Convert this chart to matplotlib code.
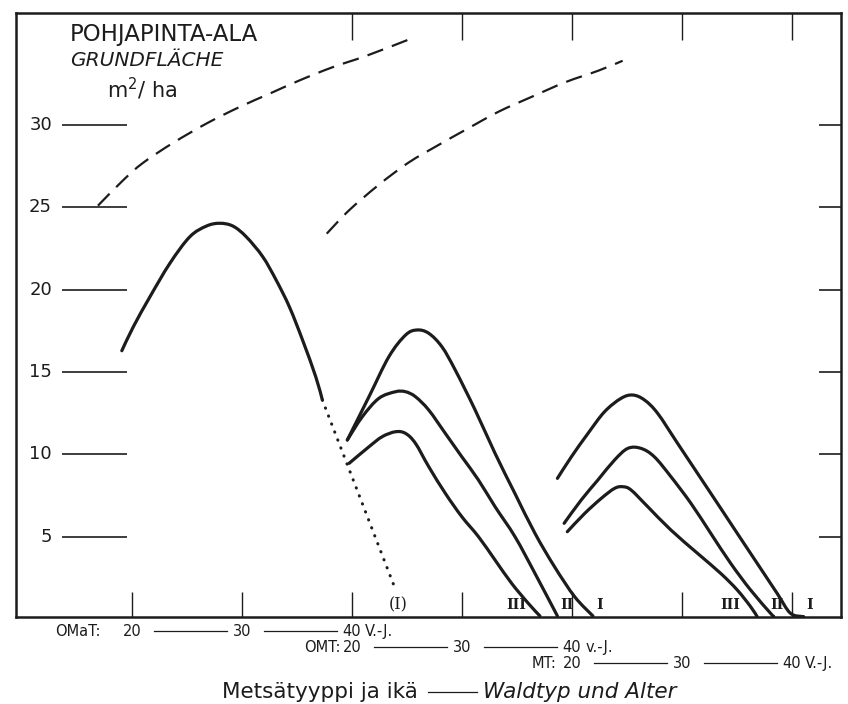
import numpy as np
import matplotlib
matplotlib.use("Agg")
import matplotlib.pyplot as plt
from matplotlib.path import Path
from matplotlib.patches import PathPatch

# x axis is in "OMaT age" units; OMT ages are shifted by 20 yrs, MT ages by 40 yrs
OMT_SHIFT = 20
MT_SHIFT = 40

# --- OMaT (basal area m2/ha by age) ---
omat_age = [19.07, 20.12, 21.63, 23.44, 25.25, 26.76, 27.96, 29.17, 30.38, 31.88, 33.1, 34.3, 35.5, 36.7, 37.3]
omat_ba = [16.29, 17.75, 19.57, 21.6, 23.21, 23.86, 24.03, 23.86, 23.21, 22.0, 20.58, 18.96, 16.94, 14.71, 13.3]
omat_extra_age = [37.3, 44.0]
omat_extra_ba = [13.3, 1.7]
omat_ref_age = [16.9, 19.2, 21.0, 23.7, 26.8, 29.8, 32.5, 35.2, 38.2, 41.3, 45.2]
omat_ref_ba = [25.1, 26.65, 27.7, 28.9, 30.1, 31.1, 31.9, 32.7, 33.5, 34.2, 35.2]

# --- OMT ---
omt_ref_age = [17.7, 19.7, 22.4, 25.1, 27.9, 30.3, 33.3, 36.3, 39.4, 42.4, 44.6]
omt_ref_ba = [23.4, 24.8, 26.35, 27.7, 28.8, 29.7, 30.8, 31.7, 32.6, 33.3, 33.9]
omt_I_age = [19.57, 21.54, 23.35, 24.86, 25.9, 26.97, 28.17, 29.38, 31.19, 33.0, 34.8, 36.63, 38.4, 40.24, 41.9]
omt_I_ba = [10.87, 13.5, 15.93, 17.24, 17.55, 17.35, 16.53, 15.12, 12.69, 10.06, 7.63, 5.2, 3.18, 1.35, 0.18]
omt_II_age = [19.57, 20.93, 22.44, 23.95, 24.86, 25.76, 26.97, 28.48, 29.98, 31.49, 33.0, 34.81, 36.62, 38.67]
omt_II_ba = [10.87, 12.28, 13.4, 13.8, 13.8, 13.5, 12.69, 11.27, 9.85, 8.44, 6.82, 5.0, 2.78, 0.18]
omt_III_age = [19.73, 21.54, 22.74, 23.95, 24.86, 25.76, 26.97, 28.48, 29.98, 31.49, 33.0, 34.5, 36.02, 37.08]
omt_III_ba = [9.45, 10.46, 11.07, 11.37, 11.27, 10.67, 9.25, 7.63, 6.21, 5.0, 3.58, 2.17, 0.95, 0.18]

# --- MT ---
mt_I_age = [18.67, 19.94, 21.45, 22.96, 24.46, 25.52, 26.58, 27.78, 29.59, 31.4, 33.21, 35.02, 36.83, 38.64, 39.85, 41.06]
mt_I_ba = [8.54, 9.85, 11.27, 12.59, 13.4, 13.6, 13.3, 12.49, 10.67, 8.85, 7.03, 5.2, 3.38, 1.56, 0.35, 0.14]
mt_II_age = [19.28, 20.84, 22.35, 23.86, 25.07, 26.27, 27.48, 28.99, 30.8, 32.61, 34.42, 36.23, 38.04, 38.34]
mt_II_ba = [5.81, 7.23, 8.44, 9.65, 10.36, 10.36, 9.85, 8.64, 7.03, 5.2, 3.38, 1.76, 0.35, 0.14]
mt_III_age = [19.57, 21.15, 22.65, 23.86, 24.62, 25.37, 26.88, 28.99, 31.4, 33.51, 35.02, 36.23, 36.83]
mt_III_ba = [5.3, 6.41, 7.32, 7.93, 8.03, 7.83, 6.82, 5.4, 3.99, 2.77, 1.76, 0.75, 0.14]

# class labels along the base line (position in OMaT-age units)
class_labels = ["(I)", "III", "II", "I", "III", "II", "I"]
class_label_pos = [44.2, 54.9, 59.5, 62.5, 74.4, 78.6, 81.6]

yticks = [5, 10, 15, 20, 25, 30]
age_labels = [20, 30, 40]

ink = "#1c1c1c"
plt.rcParams["font.family"] = "DejaVu Sans"

fig = plt.figure(figsize=(8.48, 7.04), dpi=100)
ax = fig.add_axes([16 / 848, 1 - 617 / 704, 825 / 848, 604 / 704])
ax.set_xlim(9.45, 84.45)
ax.set_ylim(0.12, 36.8)

for s in ax.spines.values():
    s.set_linewidth(1.8)
    s.set_color(ink)


def smooth_curve(xs, ys, **kw):
    # draw a smooth curve through the read points (Catmull-Rom as bezier path)
    p = np.column_stack([xs, ys]).astype(float)
    verts = [p[0]]
    codes = [Path.MOVETO]
    n = len(p)
    for i in range(n - 1):
        p0 = p[i - 1] if i > 0 else p[i]
        p3 = p[i + 2] if i + 2 < n else p[i + 1]
        c1 = p[i] + (p[i + 1] - p0) / 6
        c2 = p[i + 1] - (p3 - p[i]) / 6
        verts += [c1, c2, p[i + 1]]
        codes += [Path.CURVE4] * 3
    patch = PathPatch(Path(verts, codes), fill=False, **kw)
    ax.add_patch(patch)


lw = 2.3
smooth_curve(omat_age, omat_ba, edgecolor=ink, lw=lw, capstyle="round")
ax.plot(omat_extra_age, omat_extra_ba, color=ink, lw=2.2, linestyle=(0, (0.1, 2.7)),
        dash_capstyle="round")
smooth_curve(omat_ref_age, omat_ref_ba, edgecolor=ink, lw=1.6, linestyle=(0, (7.5, 4.2)))
smooth_curve(np.array(omt_ref_age) + OMT_SHIFT, omt_ref_ba, edgecolor=ink, lw=1.6,
             linestyle=(0, (7.5, 4.2)))

for a, b in [(omt_I_age, omt_I_ba), (omt_II_age, omt_II_ba), (omt_III_age, omt_III_ba)]:
    smooth_curve(np.array(a) + OMT_SHIFT, b, edgecolor=ink, lw=lw, capstyle="round",
                 joinstyle="round")
for a, b in [(mt_I_age, mt_I_ba), (mt_II_age, mt_II_ba), (mt_III_age, mt_III_ba)]:
    smooth_curve(np.array(a) + MT_SHIFT, b, edgecolor=ink, lw=lw, capstyle="round",
                 joinstyle="round")

# ticks: bottom inward, right inward, left detached hand-drawn style
ax.set_xticks([20, 30, 40, 50, 60, 70, 80])
ax.set_yticks(yticks)
ax.tick_params(axis="x", direction="in", length=18, width=1.0, color=ink,
               labelbottom=False, top=False)
ax.tick_params(axis="y", direction="in", length=16, width=1.2, color=ink,
               left=False, right=True, labelleft=False)
ytrans = ax.get_yaxis_transform()
xtrans = ax.get_xaxis_transform()
ax.hlines(yticks, 0.056, 0.135, transform=ytrans, color=ink, lw=1.2)
for v in yticks:
    ax.text(0.0436, v, str(v), transform=ytrans, ha="right", va="center",
            fontsize=13, color=ink)
# top ticks
ax.vlines([40, 50, 60, 70, 80], 0.956, 1.0, transform=xtrans, color=ink, lw=1.0)

# axis title text
ax.text(0.0655, 0.9636, "POHJAPINTA-ALA", transform=ax.transAxes, fontsize=16.5,
        color=ink, va="center", ha="left")
ax.text(0.0655, 0.921, "GRUNDFLÄCHE", transform=ax.transAxes, fontsize=14.5,
        style="italic", color=ink, va="center", ha="left")
ax.text(0.11, 0.874, "m$^2$/ ha", transform=ax.transAxes, fontsize=15,
        color=ink, va="center", ha="left")

# class labels
for lab, pos in zip(class_labels, class_label_pos):
    paren = lab.startswith("(")
    ax.text(pos, 0.02, lab, transform=xtrans, ha="center", va="center",
            fontsize=11.5 if paren else 10, family="DejaVu Serif",
            fontweight="normal" if paren else "bold", color=ink)


# age rows below axis
def age_row(prefix, shift, y, suffix, gap):
    fs = 10.5
    pos = [a + shift for a in age_labels]
    for a, p in zip(age_labels, pos):
        ax.text(p, y, str(a), transform=xtrans, ha="center", va="center",
                fontsize=fs, color=ink)
    ax.text(pos[0] - gap, y, prefix, transform=xtrans, ha="right", va="center",
            fontsize=fs, color=ink)
    for p0, p1 in zip(pos[:-1], pos[1:]):
        ax.plot([p0 + 2.0, p1 - 1.4], [y, y], transform=xtrans, color=ink,
                lw=0.9, clip_on=False)
    ax.text(pos[-1] + 1.2, y, suffix, transform=xtrans, ha="left", va="center",
            fontsize=fs, color=ink)


age_row("OMaT:", 0, -0.0232, "V.-J.", 2.9)
age_row("OMT:", OMT_SHIFT, -0.0497, "v.-J.", 1.0)
age_row("MT:", MT_SHIFT, -0.0762, "V.-J.", 1.4)

ax.text(0.487, -0.124, "Metsätyyppi ja ikä", transform=ax.transAxes, ha="right",
        va="center", fontsize=15.5, color=ink)
ax.plot([0.4994, 0.5588], [-0.124, -0.124], transform=ax.transAxes, color=ink,
        lw=0.9, clip_on=False)
ax.text(0.566, -0.124, "Waldtyp und Alter", transform=ax.transAxes, ha="left",
        va="center", fontsize=15.5, style="italic", color=ink)

fig.savefig("out.png", dpi=100, facecolor="white")
